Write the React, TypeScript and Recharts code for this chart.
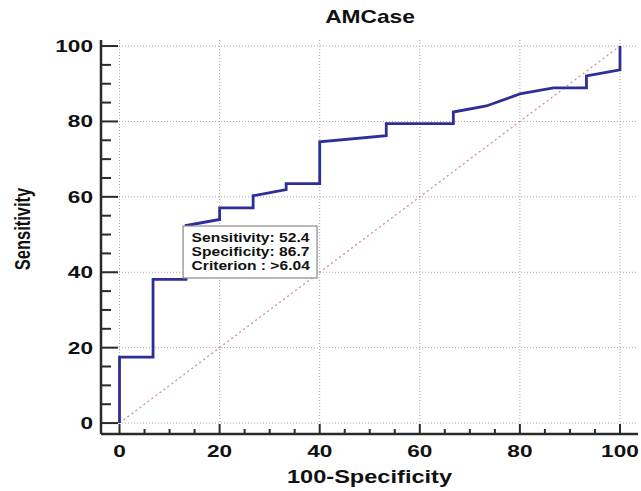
import React from 'react';
import { LineChart, Line, XAxis, YAxis, ReferenceLine, ReferenceDot, Label } from 'recharts';

// ROC curve points (100-Specificity, Sensitivity)
const fpr = [0, 0, 6.7, 6.7, 13.3, 13.3, 20, 20, 26.7, 26.7, 33.3, 33.3, 40, 40, 53.3, 53.3, 66.7, 66.7, 73.3, 80, 86.7, 93.3, 93.3, 100, 100];
const tpr = [0, 17.5, 17.5, 38.1, 38.1, 52.4, 54.0, 57.1, 57.1, 60.3, 61.9, 63.5, 63.5, 74.6, 76.2, 79.4, 79.4, 82.5, 84.1, 87.3, 88.9, 88.9, 92.1, 93.7, 100];

// Reference diagonal
const diagX = [0, 100];
const diagY = [0, 100];

// Ticks
const majorTicks = [0, 20, 40, 60, 80, 100];
const allTicks = [0, 5, 10, 15, 20, 25, 30, 35, 40, 45, 50, 55, 60, 65, 70, 75, 80, 85, 90, 95, 100];

// Optimal criterion annotation
const cutoffX = 13.3;
const cutoffY = 52.4;
const cutoffLines = ['Sensitivity: 52.4', 'Specificity: 86.7', 'Criterion : >6.04'];

const title = 'AMCase';
const xLabel = '100-Specificity';
const yLabel = 'Sensitivity';

const rocData = fpr.map((x, i) => ({ x, y: tpr[i] }));
const diagData = diagX.map((x, i) => ({ x, y: diagY[i] }));

const FONT = '"Liberation Sans", Arial, sans-serif';
const AXIS = '#2a2a2a';
const TEXT = '#111';

const XTick = (props: any) => {
  const { x, y, payload } = props;
  const v = payload.value;
  const major = majorTicks.includes(v);
  return (
    <g>
      <line x1={x} x2={x} y1={y} y2={y - (major ? 10 : 5)} stroke={AXIS} strokeWidth={2} />
      {major && (
        <text
          transform={`translate(${x},${y + 23}) scale(1.33,1)`}
          textAnchor="middle"
          fontFamily={FONT}
          fontWeight="bold"
          fontSize={17}
          fill={TEXT}
        >
          {v}
        </text>
      )}
    </g>
  );
};

const YTick = (props: any) => {
  const { x, y, payload } = props;
  const v = payload.value;
  const major = majorTicks.includes(v);
  return (
    <g>
      <line x1={x} x2={x + (major ? 17 : 10)} y1={y} y2={y} stroke={AXIS} strokeWidth={2} />
      {major && (
        <text
          transform={`translate(${x - 8},${y + 6}) scale(1.33,1)`}
          textAnchor="end"
          fontFamily={FONT}
          fontWeight="bold"
          fontSize={17}
          fill={TEXT}
        >
          {v}
        </text>
      )}
    </g>
  );
};

const CutoffBox = (props: any) => {
  const { cx, cy } = props;
  if (cx == null || cy == null) return null;
  const left = cx - 3;
  const top = cy + 0.5;
  return (
    <g>
      <rect x={left} y={top} width={134} height={52} fill="#fff" stroke="#8a8a8a" strokeWidth={1.2} />
      {cutoffLines.map((t, i) => (
        <text
          key={i}
          transform={`translate(${left + 8.5},${top + 16 + i * 14}) scale(1.2,1)`}
          fontFamily={FONT}
          fontWeight="bold"
          fontSize={13}
          fill={TEXT}
        >
          {t}
        </text>
      ))}
    </g>
  );
};

export default function App() {
  return (
    <div style={{ position: 'absolute', left: 0, top: 0, width: 641, height: 491, background: '#fff' }}>
      <svg width={641} height={40} style={{ position: 'absolute', left: 0, top: 0 }}>
        <text
          transform="translate(370,23) scale(1.23,1)"
          textAnchor="middle"
          fontFamily={FONT}
          fontWeight="bold"
          fontSize={18.5}
          fill={TEXT}
        >
          {title}
        </text>
      </svg>
      <LineChart width={641} height={491} margin={{ top: 40, right: 3, left: 0, bottom: 0 }}>
        <XAxis
          dataKey="x"
          type="number"
          domain={[-3.7, 103.6]}
          ticks={allTicks}
          interval={0}
          allowDataOverflow
          height={57}
          tickSize={0}
          tickMargin={0}
          tickLine={false}
          tick={<XTick />}
          axisLine={{ stroke: AXIS, strokeWidth: 2.5 }}
        >
          <Label
            content={({ viewBox }: any) => (
              <text
                transform={`translate(${viewBox.x + viewBox.width / 2},${viewBox.y + 49}) scale(1.31,1)`}
                textAnchor="middle"
                fontFamily={FONT}
                fontWeight="bold"
                fontSize={18}
                fill={TEXT}
              >
                {xLabel}
              </text>
            )}
          />
        </XAxis>
        <YAxis
          dataKey="y"
          type="number"
          domain={[-2.9, 101.6]}
          ticks={allTicks}
          interval={0}
          allowDataOverflow
          width={101}
          tickSize={0}
          tickMargin={0}
          tickLine={false}
          tick={<YTick />}
          axisLine={{ stroke: AXIS, strokeWidth: 2.5 }}
        >
          <Label
            content={({ viewBox }: any) => (
              <text
                transform={`translate(${viewBox.x + 30},${viewBox.y + viewBox.height / 2 - 8}) rotate(-90) scale(1,1.33)`}
                textAnchor="middle"
                fontFamily={FONT}
                fontWeight="bold"
                fontSize={16.5}
                fill={TEXT}
              >
                {yLabel}
              </text>
            )}
          />
        </YAxis>
        {majorTicks.map((v) => (
          <ReferenceLine key={'gx' + v} x={v} stroke="#a8a8a8" strokeDasharray="1 2" strokeWidth={1} />
        ))}
        {majorTicks.map((v) => (
          <ReferenceLine key={'gy' + v} y={v} stroke="#a8a8a8" strokeDasharray="1 2" strokeWidth={1} />
        ))}
        <Line
          data={diagData}
          dataKey="y"
          type="linear"
          stroke="#d28e8e"
          strokeWidth={1.3}
          strokeDasharray="2 3"
          dot={false}
          activeDot={false}
          isAnimationActive={false}
        />
        <Line
          data={rocData}
          dataKey="y"
          type="linear"
          stroke="#2d2f98"
          strokeWidth={2.8}
          dot={false}
          activeDot={false}
          isAnimationActive={false}
        />
        <ReferenceDot x={cutoffX} y={cutoffY} r={0} ifOverflow="visible" shape={<CutoffBox />} />
      </LineChart>
    </div>
  );
}
